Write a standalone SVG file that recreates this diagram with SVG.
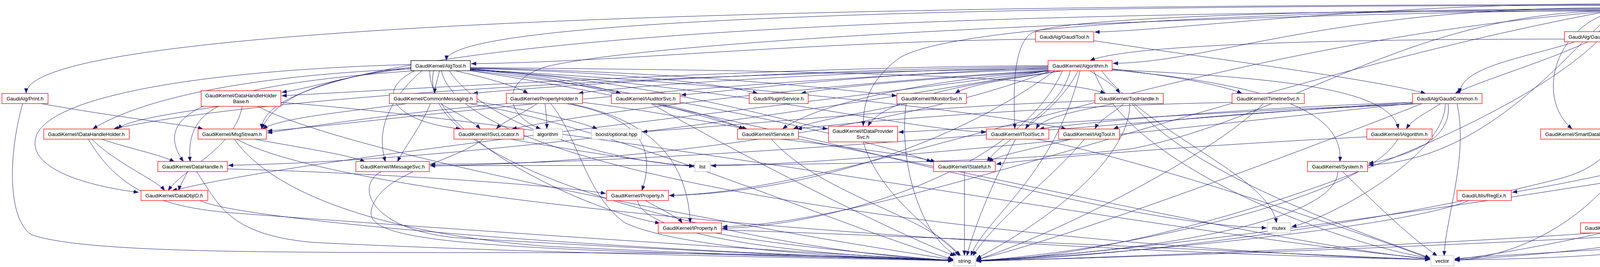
<svg xmlns="http://www.w3.org/2000/svg" width="5625" height="683" viewBox="0 0 5625 683">
<defs>
<style>
.e{fill:none;stroke:#191970;stroke-width:1;marker-end:url(#ah)}
.r{fill:#fff;stroke:#ff0000;stroke-width:1.3}
.g{fill:#fff;stroke:#bfbfbf;stroke-width:1.3}
.b{fill:#fff;stroke:#000;stroke-width:1.3}
.m{fill:#bfbfbf;stroke:#000;stroke-width:1.3}
text{font-family:"Liberation Sans",Arial,Helvetica,sans-serif;font-size:13px;fill:#000;text-anchor:middle}
</style>
<marker id="ah" viewBox="0 0 13 10" refX="13" refY="5" markerWidth="13" markerHeight="10" markerUnits="userSpaceOnUse" orient="auto"><path d="M0,0L13,5L0,10z" fill="#191970"/></marker>
</defs>
<rect width="5625" height="683" fill="#fff"/>
<g id="edges">
<path class="e" d="M4105,12 C1682,12 67,80 67,239"/>
<path class="e" d="M4105,14 C2328,14 1143,56 1143,155"/>
<path class="e" d="M4105,20 C3400,22 3100,160 2849,162"/>
<path class="e" d="M4105,10 C3500,12 3000,78 2802,82"/>
<path class="e" d="M4200,31 C4200,56 4123,56 4123,81"/>
<path class="e" d="M4130,31 C4130,135 3737,135 3737,239"/>
<path class="e" d="M4338,24 C4480,28 4610,70 4668,83"/>
<path class="e" d="M4338,22 C4550,30 4700,68 4752,83"/>
<path class="e" d="M4338,20 C4600,28 4780,70 4845,83"/>
<path class="e" d="M4338,18 C4700,28 4950,68 5032,83"/>
<path class="e" d="M4338,16 C4800,26 5120,70 5208,83"/>
<path class="e" d="M4338,14 C4900,24 5260,70 5352,83"/>
<path class="e" d="M4338,12 C5000,22 5420,70 5512,83"/>
<path class="e" d="M4330,31 C4500,60 4650,120 4727,155"/>
<path class="e" d="M4320,31 C4450,60 4560,120 4573,239"/>
<path class="e" d="M4300,31 C4480,90 4470,250 4530,330"/>
<path class="e" d="M4127,31 C3980,70 3930,250 4025,330"/>
<path class="e" d="M4338,26 C4750,100 4720,420 4418,564"/>
<path class="e" d="M4263,31 C4400,70 4423,100 4423,160 L4423,430 C4423,500 4300,540 4190,571"/>
<path class="e" d="M4250,31 C4370,120 4370,380 4230,420 C4100,450 3950,480 3871,492"/>
<path class="e" d="M4105,24 C3000,30 2400,80 2300,150 C2220,210 2210,270 2210,323"/>
<path class="e" d="M4105,22 C3200,28 2700,50 2640,85 C2590,120 2595,250 2598,330"/>
<path class="e" d="M4105,28 C3600,40 3300,300 2900,380 C2500,430 1600,422 1101,424"/>
<path class="e" d="M4105,28 C2044,28 670,119 670,330"/>
<path class="e" d="M4105,30 C3000,120 2200,490 1713,500"/>
<path class="e" d="M4105,31 C3200,200 2300,570 1849,580"/>
<path class="e" d="M4130,31 C4000,150 3800,410 3503,422"/>
<path class="e" d="M4105,26 C3000,40 1700,100 1400,170 C1270,210 1300,300 1385,330"/>
<path class="e" d="M4150,31 C4000,300 3000,660 2499,667"/>
<path class="e" d="M4240,31 C4300,400 4000,650 3724,666"/>
<path class="e" d="M2651,100 C2000,110 1600,158 1206,163"/>
<path class="e" d="M2800,104 C3100,150 3500,200 3650,239"/>
<path class="e" d="M4005,100 C3500,100 2900,110 2790,155"/>
<path class="e" d="M4065,107 C3950,160 3780,210 3725,239"/>
<path class="e" d="M4115,107 C4350,220 4530,380 4495,530 C4470,640 4100,660 3724,665"/>
<path class="e" d="M4102,107 C4180,220 4200,400 4000,455 C3600,560 2900,660 2499,667"/>
<path class="e" d="M1052,172 C900,190 800,225 721,236"/>
<path class="e" d="M1125,181 C1120,205 1115,215 1112,239"/>
<path class="e" d="M1165,181 C1250,200 1320,220 1352,239"/>
<path class="e" d="M1204,176 C1400,190 1520,220 1590,239"/>
<path class="e" d="M1204,175 C1600,185 1850,215 1940,239"/>
<path class="e" d="M1204,174 C1800,185 2200,235 2296,245"/>
<path class="e" d="M1204,173 C2000,180 2700,190 2830,239"/>
<path class="e" d="M1052,176 C600,195 350,260 237,330"/>
<path class="e" d="M1062,181 C960,230 1000,310 1180,330"/>
<path class="e" d="M1204,178 C1500,200 1800,300 1913,330"/>
<path class="e" d="M1204,179 C1900,220 2300,330 2525,338"/>
<path class="e" d="M1204,178 C2000,220 2600,300 2730,330"/>
<path class="e" d="M1060,181 C500,220 390,300 470,414"/>
<path class="e" d="M1080,181 C1000,250 960,330 987,414"/>
<path class="e" d="M1204,180 C1800,250 2300,380 2385,414"/>
<path class="e" d="M1052,165 C500,180 100,250 90,360 C80,440 250,480 355,492"/>
<path class="e" d="M1100,181 C1100,350 1500,540 1690,571"/>
<path class="e" d="M1150,181 C1250,330 1600,420 1777,424"/>
<path class="e" d="M1110,181 C1050,450 2000,650 2440,666"/>
<path class="e" d="M1130,181 C1200,500 3000,650 3661,664"/>
<path class="e" d="M1052,175 C800,200 700,260 670,330"/>
<path class="e" d="M1204,177 C1700,210 2000,310 2119,330"/>
<path class="e" d="M1204,181 C2000,300 2800,570 3243,583"/>
<path class="e" d="M2683,168 C2000,170 1000,230 721,245"/>
<path class="e" d="M2683,170 C2000,180 1400,220 1210,239"/>
<path class="e" d="M2683,172 C2100,185 1600,220 1480,239"/>
<path class="e" d="M2683,174 C2200,190 1900,230 1743,243"/>
<path class="e" d="M2690,181 C2400,200 2150,220 2050,239"/>
<path class="e" d="M2720,181 C2600,200 2480,215 2445,239"/>
<path class="e" d="M2790,181 C2820,200 2850,215 2867,239"/>
<path class="e" d="M2847,176 C3000,195 3120,215 3180,239"/>
<path class="e" d="M2683,176 C1500,190 600,260 290,330"/>
<path class="e" d="M2683,178 C1800,200 900,320 684,335"/>
<path class="e" d="M2683,180 C2000,220 1450,300 1310,330"/>
<path class="e" d="M2700,181 C2400,200 2100,260 2003,330"/>
<path class="e" d="M2720,181 C2500,210 2260,250 2222,323"/>
<path class="e" d="M2740,181 C2720,260 2650,290 2625,330"/>
<path class="e" d="M2847,178 C3300,200 3560,230 3580,330"/>
<path class="e" d="M2683,181 C2000,300 1200,410 584,423"/>
<path class="e" d="M2690,181 C2300,330 1600,420 1101,424"/>
<path class="e" d="M2760,181 C2700,300 2560,360 2527,414"/>
<path class="e" d="M2847,179 C3300,220 3440,300 3430,414"/>
<path class="e" d="M2683,181 C1800,300 800,400 440,488"/>
<path class="e" d="M2700,181 C2400,400 2000,495 1713,500"/>
<path class="e" d="M2720,181 C2600,450 2100,580 1849,584"/>
<path class="e" d="M2765,181 C2700,450 2520,560 2485,655"/>
<path class="e" d="M2800,181 C2900,450 3500,640 3661,660"/>
<path class="e" d="M2820,181 C2950,350 3250,450 3268,571"/>
<path class="e" d="M4753,181 C4770,300 4768,470 4768,510 C4768,560 4700,600 4400,620 C4000,645 3800,655 3724,662"/>
<path class="e" d="M560,272 C450,290 330,305 300,330"/>
<path class="e" d="M560,272 C500,300 480,350 487,414"/>
<path class="e" d="M620,272 C600,380 470,430 430,488"/>
<path class="e" d="M660,272 C900,400 2000,600 2440,664"/>
<path class="e" d="M719,262 C1500,320 3000,600 3661,662"/>
<path class="e" d="M1102,265 C1080,320 1040,370 1017,414"/>
<path class="e" d="M1128,265 C1170,290 1210,310 1230,330"/>
<path class="e" d="M1042,265 C900,285 720,300 672,330"/>
<path class="e" d="M1200,265 C1600,330 2200,600 2440,663"/>
<path class="e" d="M1221,260 C1350,280 1480,310 1530,330"/>
<path class="e" d="M1375,265 C1340,290 1290,310 1270,330"/>
<path class="e" d="M1395,265 C1398,290 1400,310 1400,330"/>
<path class="e" d="M1450,265 C1640,300 1680,380 1643,488"/>
<path class="e" d="M1460,265 C1680,310 1760,420 1767,571"/>
<path class="e" d="M1410,265 C1480,350 1500,500 1600,570 C1750,640 2200,660 2440,665"/>
<path class="e" d="M1491,262 C2000,320 3200,620 3661,663"/>
<path class="e" d="M1300,265 C1000,290 750,330 684,340"/>
<path class="e" d="M1690,265 C1800,290 1870,315 1905,330"/>
<path class="e" d="M1667,265 C1900,400 2300,600 2445,655"/>
<path class="e" d="M2322,265 C2200,290 2080,310 2030,330"/>
<path class="e" d="M2320,265 C2300,400 2350,600 2450,655"/>
<path class="e" d="M2877,265 C2850,290 2815,305 2803,330"/>
<path class="e" d="M2853,265 C2750,285 2670,300 2652,330"/>
<path class="e" d="M2892,265 C2895,350 2800,500 2499,662"/>
<path class="e" d="M2898,265 C3050,450 3500,600 3661,660"/>
<path class="e" d="M2803,258 C2400,270 1900,320 1644,337"/>
<path class="e" d="M3154,262 C2700,270 2200,310 2040,330"/>
<path class="e" d="M3234,265 C3100,400 2700,600 2499,665"/>
<path class="e" d="M3688,265 C3650,290 3615,305 3600,330"/>
<path class="e" d="M3707,265 C3720,360 3600,400 3503,418"/>
<path class="e" d="M3700,265 C3700,400 3400,560 3306,580"/>
<path class="e" d="M3730,265 C3760,400 3700,560 3697,655"/>
<path class="e" d="M3640,265 C3300,400 2700,620 2499,664"/>
<path class="e" d="M3616,262 C3200,275 2800,310 2660,330"/>
<path class="e" d="M3640,265 C3300,280 2900,310 2850,330"/>
<path class="e" d="M3616,266 C3100,285 2500,330 2300,338"/>
<path class="e" d="M3616,262 C3000,300 1800,420 1101,420"/>
<path class="e" d="M3616,264 C3000,330 2200,420 1820,424"/>
<path class="e" d="M4573,265 C4565,290 4557,310 4553,330"/>
<path class="e" d="M4595,265 C4700,330 4640,380 4400,420 C3800,520 2900,650 2499,666"/>
<path class="e" d="M260,356 C330,380 410,395 447,414"/>
<path class="e" d="M235,356 C300,420 400,460 422,488"/>
<path class="e" d="M226,356 C300,480 400,530 600,545 C1200,590 2100,650 2440,666"/>
<path class="e" d="M652,356 C780,380 890,395 935,414"/>
<path class="e" d="M600,356 C700,500 1000,600 1400,630 C1900,655 2300,662 2440,666"/>
<path class="e" d="M606,356 C900,520 2500,640 3661,664"/>
<path class="e" d="M1237,356 C1150,420 970,440 950,540 C940,620 1200,640 2440,665"/>
<path class="e" d="M1307,356 C1500,390 1700,420 1777,426"/>
<path class="e" d="M2000,356 C2200,380 2350,400 2395,414"/>
<path class="e" d="M1975,356 C2100,500 2400,560 2455,655"/>
<path class="e" d="M2210,363 C2250,500 2400,600 2460,655"/>
<path class="e" d="M2600,356 C2550,450 2500,560 2475,655"/>
<path class="e" d="M2652,356 C2900,400 3500,600 3661,662"/>
<path class="e" d="M2742,356 C2650,380 2560,395 2530,414"/>
<path class="e" d="M2776,356 C2700,450 2550,560 2490,655"/>
<path class="e" d="M3499,350 C3100,370 2700,400 2550,420"/>
<path class="e" d="M3578,356 C3500,500 2900,640 2499,667"/>
<path class="e" d="M480,439 C470,460 460,475 458,488"/>
<path class="e" d="M582,432 C900,440 1400,470 1551,495"/>
<path class="e" d="M503,439 C560,520 580,600 800,620 C1400,650 2200,662 2440,667"/>
<path class="e" d="M976,439 C900,480 960,600 1200,610 C1700,640 2200,660 2440,667"/>
<path class="e" d="M2469,439 L2469,654"/>
<path class="e" d="M3425,439 C3420,560 3000,640 2499,667"/>
<path class="e" d="M3437,439 C3500,500 3600,600 3680,655"/>
<path class="e" d="M512,513 C600,560 1500,640 2440,666"/>
<path class="e" d="M1652,513 C1700,540 1735,555 1747,571"/>
<path class="e" d="M1632,513 C1650,600 2000,650 2440,666"/>
<path class="e" d="M1832,596 C2000,630 2300,655 2440,667"/>
<path class="e" d="M1847,588 C2500,610 3300,650 3661,664"/>
<path class="e" d="M3760,513 C3600,580 2900,650 2499,667"/>
<path class="e" d="M4080,596 C3600,630 2800,660 2499,668"/>
<path class="e" d="M4100,596 C3950,630 3800,655 3724,664"/>
<path class="e" d="M4271,598 C3500,640 2800,660 2499,668"/>
<path class="e" d="M4290,604 C4100,640 3850,658 3724,665"/>
<path class="e" d="M105,265 C300,300 480,320 520,330"/>
<path class="e" d="M58,265 C20,400 20,560 80,600 C300,680 1500,620 2440,667"/>
</g>
<g id="n_main"><rect class="m" x="4105" y="5" width="233" height="26"/><text x="4221" y="23">GaudiAlg/src/lib/GaudiCommon.icpp</text></g>
<g id="n_gauditool"><rect class="r" x="2651" y="81" width="149" height="26"/><text x="2725" y="99">GaudiAlg/GaudiTool.h</text></g>
<g id="n_gaudialgorithm"><rect class="r" x="4005" y="81" width="179" height="26"/><text x="4094" y="99">GaudiAlg/GaudiAlgorithm.h</text></g>
<g id="n_cstdlib"><rect class="g" x="4665" y="81" width="60" height="26"/><text x="4695" y="99">cstdlib</text></g>
<g id="n_numeric"><rect class="g" x="4748" y="81" width="69" height="26"/><text x="4782" y="99">numeric</text></g>
<g id="n_smartref"><rect class="r" x="4840" y="81" width="164" height="26"/><text x="4922" y="99">GaudiKernel/SmartRef.h</text></g>
<g id="n_reverse"><rect class="r" x="5028" y="81" width="151" height="26"/><text x="5103" y="99">GaudiKernel/reverse.h</text></g>
<g id="n_bformat"><rect class="g" x="5204" y="81" width="120" height="26"/><text x="5264" y="99">boost/format.hpp</text></g>
<g id="n_btok"><rect class="g" x="5348" y="81" width="136" height="26"/><text x="5416" y="99">boost/tokenizer.hpp</text></g>
<g id="n_bnone"><rect class="g" x="5508" y="81" width="111" height="26"/><text x="5563" y="99">boost/none.hpp</text></g>
<g id="n_algtool"><rect class="b" x="1052" y="155" width="152" height="26"/><text x="1128" y="173">GaudiKernel/AlgTool.h</text></g>
<g id="n_algorithm"><rect class="r" x="2683" y="155" width="164" height="26"/><text x="2765" y="173">GaudiKernel/Algorithm.h</text></g>
<g id="n_objvec"><rect class="r" x="4659" y="155" width="185" height="26"/><text x="4751" y="173">GaudiKernel/ObjectVector.h</text></g>
<g id="n_print"><rect class="r" x="5" y="239" width="118" height="26"/><text x="64" y="257">GaudiAlg/Print.h</text></g>
<g id="n_dhhb"><rect class="r" x="515" y="232" width="204" height="40"/><text x="617" y="249">GaudiKernel/DataHandleHolder</text><text x="617" y="264">Base.h</text></g>
<g id="n_commonmsg"><rect class="r" x="997" y="239" width="224" height="26"/><text x="1109" y="257">GaudiKernel/CommonMessaging.h</text></g>
<g id="n_propholder"><rect class="r" x="1296" y="239" width="195" height="26"/><text x="1393" y="257">GaudiKernel/PropertyHolder.h</text></g>
<g id="n_iauditorsvc"><rect class="r" x="1565" y="239" width="176" height="26"/><text x="1653" y="257">GaudiKernel/IAuditorSvc.h</text></g>
<g id="n_pluginsvc"><rect class="r" x="1918" y="239" width="151" height="26"/><text x="1993" y="257">Gaudi/PluginService.h</text></g>
<g id="n_imonitorsvc"><rect class="r" x="2296" y="239" width="178" height="26"/><text x="2385" y="257">GaudiKernel/IMonitorSvc.h</text></g>
<g id="n_toolhandle"><rect class="r" x="2803" y="239" width="175" height="26"/><text x="2890" y="257">GaudiKernel/ToolHandle.h</text></g>
<g id="n_itimelinesvc"><rect class="r" x="3154" y="239" width="185" height="26"/><text x="3246" y="257">GaudiKernel/ITimelineSvc.h</text></g>
<g id="n_gaudicommon"><rect class="r" x="3616" y="239" width="178" height="26"/><text x="3705" y="257">GaudiAlg/GaudiCommon.h</text></g>
<g id="n_stat"><rect class="r" x="4512" y="239" width="133" height="26"/><text x="4578" y="257">GaudiKernel/Stat.h</text></g>
<g id="n_idhh"><rect class="r" x="112" y="330" width="219" height="26"/><text x="221" y="348">GaudiKernel/IDataHandleHolder.h</text></g>
<g id="n_msgstream"><rect class="r" x="507" y="330" width="175" height="26"/><text x="594" y="348">GaudiKernel/MsgStream.h</text></g>
<g id="n_isvclocator"><rect class="r" x="1162" y="330" width="179" height="26"/><text x="1251" y="348">GaudiKernel/ISvcLocator.h</text></g>
<g id="n_algorithm_std"><rect class="g" x="1365" y="330" width="75" height="26"/><text x="1402" y="348">algorithm</text></g>
<g id="n_boptional"><rect class="g" x="1514" y="330" width="128" height="26"/><text x="1578" y="348">boost/optional.hpp</text></g>
<g id="n_iservice"><rect class="r" x="1888" y="330" width="156" height="26"/><text x="1966" y="348">GaudiKernel/IService.h</text></g>
<g id="n_idps"><rect class="r" x="2121" y="323" width="177" height="40"/><text x="2209" y="340">GaudiKernel/IDataProvider</text><text x="2209" y="355">Svc.h</text></g>
<g id="n_itoolsvc"><rect class="r" x="2525" y="330" width="160" height="26"/><text x="2605" y="348">GaudiKernel/IToolSvc.h</text></g>
<g id="n_ialgtool"><rect class="r" x="2710" y="330" width="156" height="26"/><text x="2788" y="348">GaudiKernel/IAlgTool.h</text></g>
<g id="n_ialgorithm"><rect class="r" x="3499" y="330" width="167" height="26"/><text x="3582" y="348">GaudiKernel/IAlgorithm.h</text></g>
<g id="n_smartdataptr"><rect class="r" x="3944" y="330" width="189" height="26"/><text x="4038" y="348">GaudiKernel/SmartDataPtr.h</text></g>
<g id="n_statentity"><rect class="r" x="4462" y="330" width="167" height="26"/><text x="4545" y="348">GaudiKernel/StatEntity.h</text></g>
<g id="n_datahandle"><rect class="r" x="404" y="413" width="178" height="26"/><text x="493" y="431">GaudiKernel/DataHandle.h</text></g>
<g id="n_imessagesvc"><rect class="r" x="911" y="413" width="188" height="26"/><text x="1005" y="431">GaudiKernel/IMessageSvc.h</text></g>
<g id="n_list"><rect class="g" x="1779" y="413" width="39" height="26"/><text x="1798" y="431">list</text></g>
<g id="n_istateful"><rect class="r" x="2390" y="413" width="158" height="26"/><text x="2469" y="431">GaudiKernel/IStateful.h</text></g>
<g id="n_system"><rect class="r" x="3347" y="413" width="154" height="26"/><text x="3424" y="431">GaudiKernel/System.h</text></g>
<g id="n_dataobjid"><rect class="r" x="361" y="487" width="171" height="26"/><text x="446" y="505">GaudiKernel/DataObjID.h</text></g>
<g id="n_property"><rect class="r" x="1553" y="487" width="158" height="26"/><text x="1632" y="505">GaudiKernel/Property.h</text></g>
<g id="n_regex"><rect class="r" x="3730" y="487" width="139" height="26"/><text x="3799" y="505">GaudiUtils/RegEx.h</text></g>
<g id="n_iproperty"><rect class="r" x="1685" y="570" width="162" height="26"/><text x="1766" y="588">GaudiKernel/IProperty.h</text></g>
<g id="n_mutex"><rect class="g" x="3245" y="570" width="59" height="26"/><text x="3274" y="588">mutex</text></g>
<g id="n_ijoboptions"><rect class="r" x="4046" y="570" width="201" height="26"/><text x="4146" y="588">GaudiKernel/IJobOptionsSvc.h</text></g>
<g id="n_idms"><rect class="r" x="4271" y="564" width="180" height="40"/><text x="4361" y="581">GaudiKernel/IDataManager</text><text x="4361" y="596">Svc.h</text></g>
<g id="n_string"><rect class="g" x="2442" y="654" width="55" height="26"/><text x="2469" y="672">string</text></g>
<g id="n_vector"><rect class="g" x="3663" y="654" width="59" height="26"/><text x="3692" y="672">vector</text></g>
</svg>
